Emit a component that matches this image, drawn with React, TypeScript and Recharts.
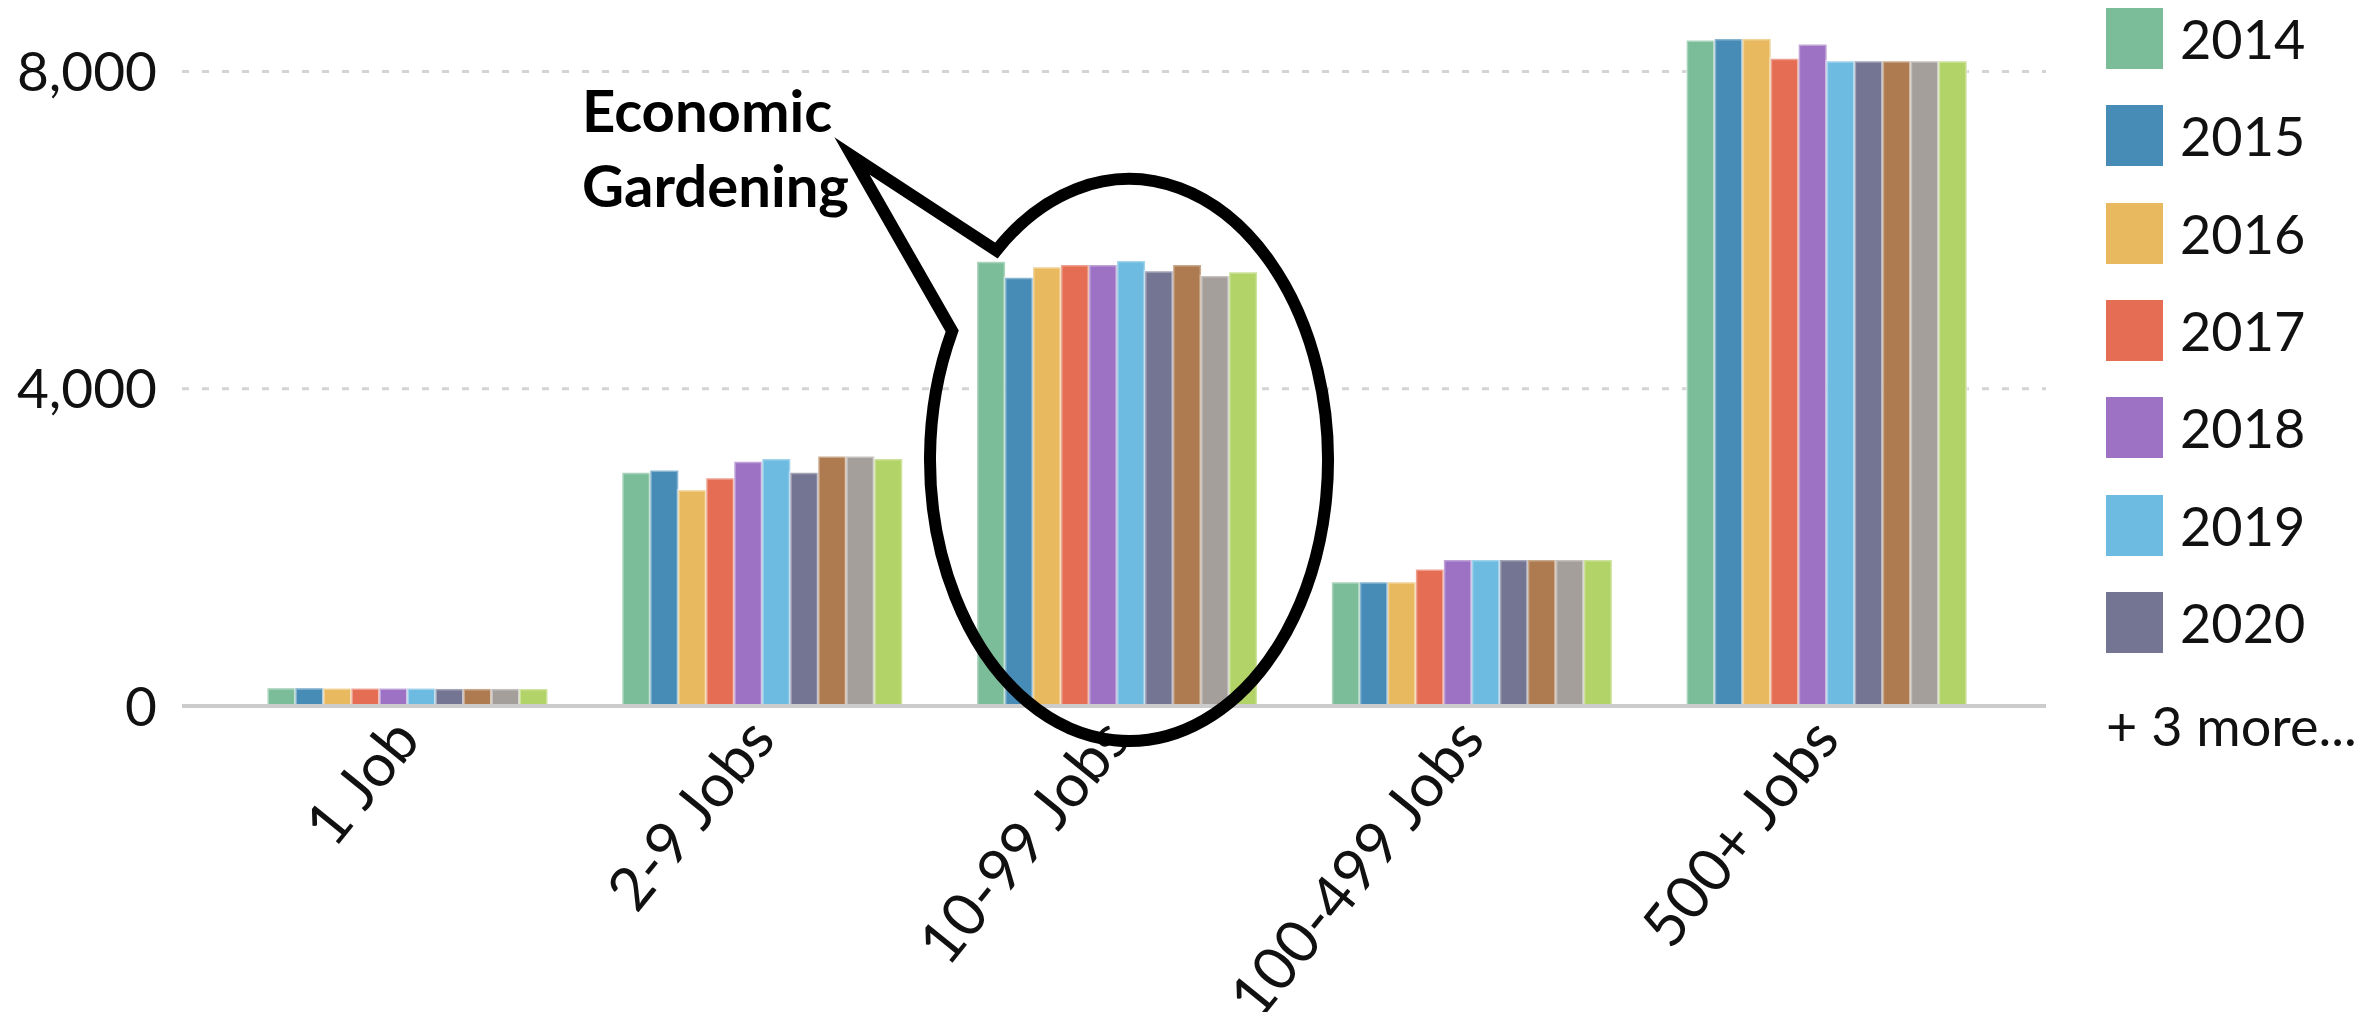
import React from "react";
import { Bar, BarChart, CartesianGrid, XAxis, YAxis } from "recharts";

const categories = ["1 Job", "2-9 Jobs", "10-99 Jobs", "100-499 Jobs", "500+ Jobs"];
const years = ["2014", "2015", "2016", "2017", "2018", "2019", "2020", "2021", "2022", "2023"];
const colors = ["#7cbd99", "#478cb7", "#e8b95e", "#e46d53", "#9d72c4", "#6dbbe0", "#737592", "#ad7b4f", "#a59f9b", "#b2d367"];

// values per year, in category order
const v2014 = [225, 2940, 5600, 1560, 8390];
const v2015 = [225, 2970, 5400, 1560, 8410];
const v2016 = [220, 2720, 5530, 1560, 8410];
const v2017 = [220, 2870, 5560, 1720, 8160];
const v2018 = [220, 3080, 5560, 1840, 8340];
const v2019 = [220, 3115, 5610, 1840, 8130];
const v2020 = [215, 2940, 5480, 1840, 8130];
const v2021 = [215, 3145, 5560, 1840, 8130];
const v2022 = [215, 3145, 5420, 1840, 8130];
const v2023 = [215, 3115, 5470, 1840, 8130];

const yTicks = [0, 4000, 8000];
const shownInLegend = 7;

const series = [v2014, v2015, v2016, v2017, v2018, v2019, v2020, v2021, v2022, v2023];
const data = categories.map((name, i) => {
  const row: Record<string, string | number> = { name };
  years.forEach((yr, s) => (row[yr] = series[s][i]));
  return row;
});

const font = "Lato, 'Liberation Sans', sans-serif";

function XTick({ x, y, payload }: any) {
  const tx = x - 20;
  return (
    <text x={tx} y={y} dy="0.71em" textAnchor="end" transform={`rotate(-51 ${tx} ${y})`}
      fontSize={60} fill="#111" fontFamily={font}>
      {payload.value}
    </text>
  );
}

function Callout() {
  // speech-bubble ellipse around the 10-99 group
  const cx = 1121, cy = 452, rx = 199, ry = 281;
  const a1 = (-131.8 * Math.PI) / 180;
  const a2 = (-152.7 * Math.PI) / 180;
  const p1 = [cx + rx * Math.cos(a1), cy + ry * Math.sin(a1)];
  const p2 = [cx + rx * Math.cos(a2), cy + ry * Math.sin(a2)];
  const tip = [844, 148];
  const d = `M${tip[0]},${tip[1]} L${p1[0]},${p1[1]} A${rx},${ry} 0 1 1 ${p2[0]},${p2[1]} Z`;
  return (
    <svg width={2360} height={1004} style={{ position: "absolute", left: 0, top: 0, pointerEvents: "none" }}>
      <path d={d} fill="none" stroke="#000" strokeWidth={12} strokeLinejoin="miter" strokeMiterlimit={10} />
      <text x={574} y={124} fontSize={58} fontWeight={700} fontFamily={font} fill="#000">Economic</text>
      <text x={574} y={199} fontSize={58} fontWeight={700} fontFamily={font} fill="#000">Gardening</text>
    </svg>
  );
}

function YearLegend() {
  return (
    <div style={{ position: "absolute", left: 2098, top: -18, fontFamily: font, fontSize: 54, color: "#111" }}>
      {years.slice(0, shownInLegend).map((yr, i) => (
        <div key={yr} style={{ display: "flex", alignItems: "center", height: 97.3 }}>
          <div style={{ width: 57, height: 61, background: colors[i], marginRight: 17 }} />
          <span>{yr}</span>
        </div>
      ))}
      <div style={{ height: 97.3, display: "flex", alignItems: "center", marginTop: 6 }}>
        + {years.length - shownInLegend} more...
      </div>
    </div>
  );
}

export default function App() {
  return (
    <div style={{ position: "relative", width: 2360, height: 1004, background: "#fff" }}>
      <BarChart width={2050} height={1004} data={data} margin={{ top: 0, right: 12, left: 0, bottom: 0 }}
        barCategoryGap="10%" barGap={0}>
        <CartesianGrid vertical={false} syncWithTicks stroke="#d4d4d4" strokeWidth={3} strokeDasharray="7 13" />
        <XAxis dataKey="name" interval={0} height={306} tickLine={false} tickSize={0} tickMargin={8}
          axisLine={{ stroke: "#cccccc", strokeWidth: 4 }} padding={{ left: 50, right: 40 }} tick={<XTick />} />
        <YAxis width={174} domain={[0, 8800]} ticks={yTicks} axisLine={false} tickLine={false} tickSize={0}
          tickMargin={25} tickFormatter={(v: number) => v.toLocaleString("en-US")}
          tick={{ fontSize: 55, fill: "#111", fontFamily: font }} />
        {years.map((yr, i) => (
          <Bar key={yr} dataKey={yr} fill={colors[i]} stroke="rgba(255,255,255,0.35)" strokeWidth={3}
            isAnimationActive={false} />
        ))}
      </BarChart>
      <YearLegend />
      <Callout />
    </div>
  );
}
